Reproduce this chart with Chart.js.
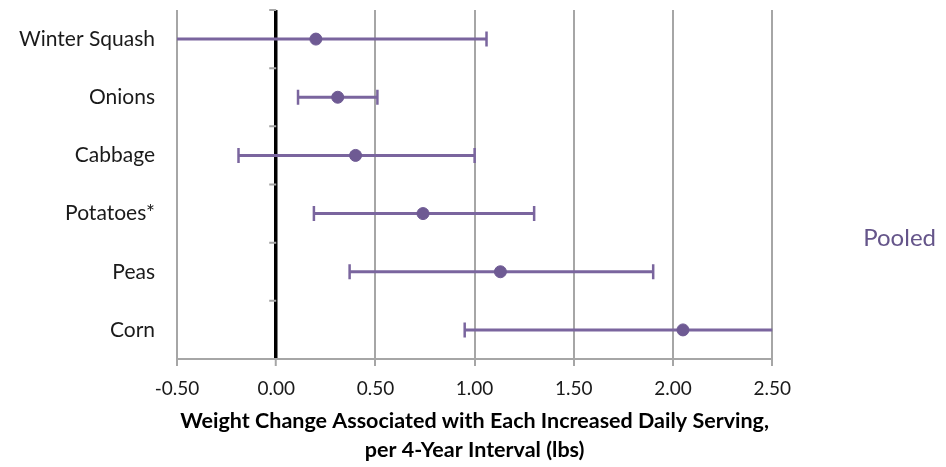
<!DOCTYPE html>
<html>
<head>
<meta charset="utf-8">
<script src="https://cdn.jsdelivr.net/npm/chart.js@4.4.1/dist/chart.umd.min.js"></script>
<style>
    html, body { margin: 0; padding: 0; background: #fff; }
</style>
</head>
<body>
<canvas id="forestChart" width="946" height="467"></canvas>
<script>
// Data
const foods    = ['Winter Squash', 'Onions', 'Cabbage', 'Potatoes*', 'Peas', 'Corn'];
const estimate = [0.20, 0.31, 0.40, 0.74, 1.13, 2.05];
const lower    = [-0.65, 0.11, -0.19, 0.19, 0.37, 0.95];
const upper    = [1.06, 0.51, 1.00, 1.30, 1.90, 3.05];
const xTicks   = [-0.5, 0, 0.5, 1, 1.5, 2, 2.5];

const PURPLE = '#7a659e';
const DOT = '#6e5a93';
const GRID = '#a6a6a6';
const FONT = 'Lato, "Open Sans", sans-serif';

// small tick marks on the zero line, between categories
const zeroTicks = {
    id: 'zeroTicks',
    beforeDatasetsDraw(chart) {
        const x = chart.scales.x, y = chart.scales.y;
        const x0 = x.getPixelForValue(0);
        const step = (y.bottom - y.top) / foods.length;
        const c = chart.ctx;
        c.save();
        c.strokeStyle = GRID;
        c.lineWidth = 2;
        c.beginPath();
        for (let k = 0; k <= foods.length; k++) {
            const py = y.top + k * step;
            c.moveTo(x0 - 7, py);
            c.lineTo(x0, py);
        }
        c.stroke();
        c.restore();
    }
};

const datasets = [{
    label: 'Pooled',
    data: foods.map((f, i) => ({ x: estimate[i], y: f })),
    pointRadius: 6,
    pointBackgroundColor: DOT,
    pointBorderColor: DOT,
    showLine: false
}];

// one line per food for the confidence interval, with caps
foods.forEach((f, i) => {
    datasets.push({
        label: 'ci',
        type: 'line',
        data: [{ x: lower[i], y: f }, { x: upper[i], y: f }],
        borderColor: PURPLE,
        borderWidth: 3,
        pointStyle: 'line',
        pointRotation: 90,
        pointRadius: 7.5,
        pointBorderWidth: 2.5,
        pointBorderColor: PURPLE,
        fill: false
    });
});

new Chart(document.getElementById('forestChart'), {
    type: 'scatter',
    data: { datasets: datasets },
    plugins: [zeroTicks],
    options: {
        responsive: false,
        animation: false,
        events: [],
        layout: { padding: { top: 10, right: 0, bottom: 0, left: 0 } },
        plugins: {
            tooltip: { enabled: false },
            legend: {
                position: 'right',
                labels: {
                    color: '#65558a',
                    font: { family: FONT, size: 24 },
                    boxWidth: 69,
                    boxHeight: 0,
                    padding: 10,
                    generateLabels: () => [{
                        text: 'Pooled',
                        fillStyle: 'transparent',
                        strokeStyle: 'transparent',
                        lineWidth: 0,
                        fontColor: '#65558a',
                        datasetIndex: 0
                    }]
                }
            }
        },
        scales: {
            x: {
                type: 'linear',
                min: -0.5,
                max: 2.5,
                afterBuildTicks: (s) => { s.ticks = xTicks.map(v => ({ value: v })); },
                afterFit: (s) => { s.height = 108; },
                ticks: {
                    color: '#1a1a1a',
                    font: { family: FONT, size: 19 },
                    padding: 11,
                    callback: (v) => Number(v).toFixed(2)
                },
                grid: {
                    color: (ctx) => (ctx.tick && ctx.tick.value === 0) ? '#000' : GRID,
                    lineWidth: (ctx) => (ctx.tick && ctx.tick.value === 0) ? 3.5 : 2,
                    tickColor: GRID,
                    tickWidth: 2,
                    tickLength: 7
                },
                border: { color: GRID, width: 2 },
                title: {
                    display: true,
                    text: ['Weight Change Associated with Each Increased Daily Serving,', 'per 4-Year Interval (lbs)'],
                    color: '#000',
                    font: { family: FONT, size: 21.5, weight: 'bold', lineHeight: 1.35 },
                    padding: { top: 0, bottom: 2 }
                }
            },
            y: {
                type: 'category',
                labels: foods,
                offset: true,
                afterFit: (s) => { s.width = 177; s.paddingTop = 0; s.paddingBottom = 0; },
                grid: { display: false, offset: true },
                border: { display: false },
                ticks: {
                    color: '#1a1a1a',
                    font: { family: FONT, size: 21 },
                    padding: 14
                }
            }
        }
    }
});
</script>
</body>
</html>
